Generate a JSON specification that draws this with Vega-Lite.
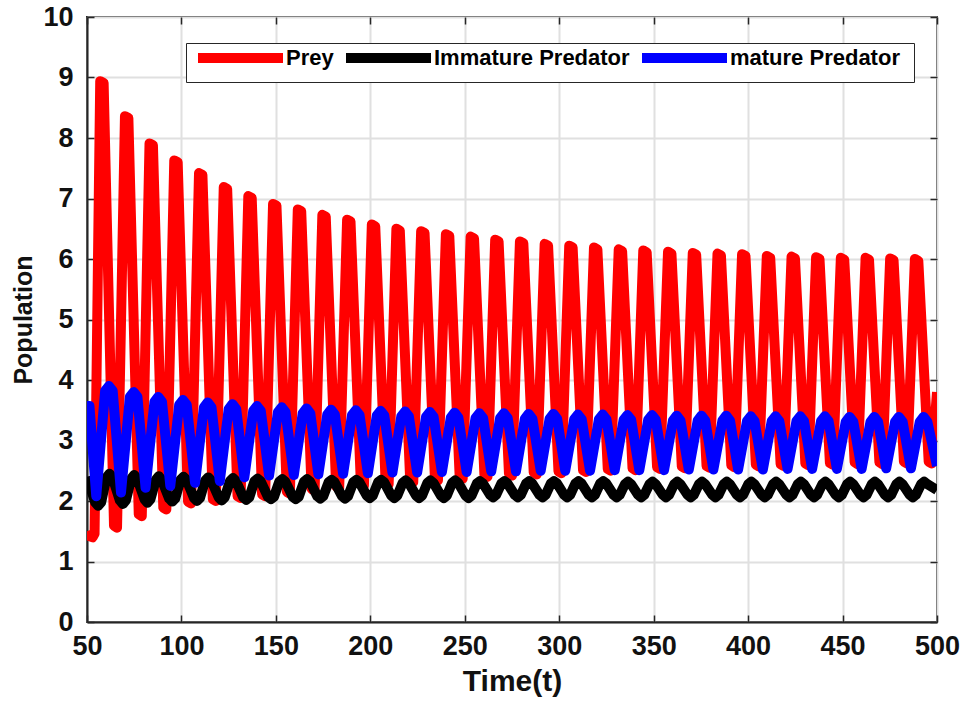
{
"$schema": "https://vega.github.io/schema/vega-lite/v6.json",
"width": 850, "height": 605,
"autosize": {"type": "none"},
"padding": {"left": 87, "top": 17, "right": 23, "bottom": 80},
"background": "white",
"config": {
  "view": {"stroke": "#262626", "strokeWidth": 2},
  "axis": {"labelFont": "Liberation Sans", "labelFontWeight": "bold", "labelFontSize": 27, "labelColor": "#111111", "labelFlush": false,
           "titleFont": "Liberation Sans", "titleFontWeight": "bold", "titleFontSize": 25, "titleColor": "#111111",
           "tickSize": -7, "tickColor": "#262626", "tickWidth": 1.5, "domainColor": "#262626", "domainWidth": 2,
           "gridColor": "#e0e0e0", "gridWidth": 2}
},
"datasets": {
"prey": [
{"t":50,"y":1.50},{"t":51.2,"y":1.42},{"t":53.0,"y":1.40},{"t":54.0,"y":1.46},
{"t":57.0,"y":8.94},{"t":58.8,"y":8.91},{"t":64.3,"y":1.59},{"t":65.9,"y":1.56},
{"t":70.1,"y":8.36},{"t":71.9,"y":8.33},{"t":77.4,"y":1.78},{"t":79.0,"y":1.75},
{"t":83.1,"y":7.91},{"t":84.9,"y":7.88},{"t":90.4,"y":1.89},{"t":92.0,"y":1.86},
{"t":96.2,"y":7.63},{"t":98.0,"y":7.60},{"t":103.5,"y":1.99},{"t":105.1,"y":1.96},
{"t":109.3,"y":7.42},{"t":111.1,"y":7.39},{"t":116.6,"y":2.03},{"t":118.2,"y":2.00},
{"t":122.4,"y":7.19},{"t":124.2,"y":7.16},{"t":129.7,"y":2.08},{"t":131.3,"y":2.05},
{"t":135.4,"y":7.04},{"t":137.2,"y":7.01},{"t":142.7,"y":2.11},{"t":144.3,"y":2.08},
{"t":148.5,"y":6.91},{"t":150.3,"y":6.88},{"t":155.8,"y":2.15},{"t":157.4,"y":2.12},
{"t":161.6,"y":6.82},{"t":163.4,"y":6.79},{"t":168.9,"y":2.20},{"t":170.5,"y":2.17},
{"t":174.6,"y":6.73},{"t":176.4,"y":6.70},{"t":181.9,"y":2.24},{"t":183.5,"y":2.21},
{"t":187.7,"y":6.65},{"t":189.5,"y":6.62},{"t":195.0,"y":2.28},{"t":196.6,"y":2.25},
{"t":200.8,"y":6.57},{"t":202.6,"y":6.54},{"t":208.1,"y":2.31},{"t":209.7,"y":2.28},
{"t":213.8,"y":6.50},{"t":215.6,"y":6.47},{"t":221.1,"y":2.34},{"t":222.7,"y":2.31},
{"t":226.9,"y":6.46},{"t":228.7,"y":6.43},{"t":234.2,"y":2.37},{"t":235.8,"y":2.34},
{"t":240.0,"y":6.41},{"t":241.8,"y":6.38},{"t":247.3,"y":2.40},{"t":248.9,"y":2.37},
{"t":253.1,"y":6.37},{"t":254.9,"y":6.34},{"t":260.4,"y":2.43},{"t":262.0,"y":2.40},
{"t":266.1,"y":6.32},{"t":267.9,"y":6.29},{"t":273.4,"y":2.45},{"t":275.0,"y":2.42},
{"t":279.2,"y":6.29},{"t":281.0,"y":6.26},{"t":286.5,"y":2.47},{"t":288.1,"y":2.44},
{"t":292.3,"y":6.25},{"t":294.1,"y":6.22},{"t":299.6,"y":2.49},{"t":301.2,"y":2.46},
{"t":305.3,"y":6.22},{"t":307.1,"y":6.19},{"t":312.6,"y":2.51},{"t":314.2,"y":2.48},
{"t":318.4,"y":6.19},{"t":320.2,"y":6.16},{"t":325.7,"y":2.53},{"t":327.3,"y":2.50},
{"t":331.5,"y":6.16},{"t":333.3,"y":6.13},{"t":338.8,"y":2.54},{"t":340.4,"y":2.51},
{"t":344.5,"y":6.14},{"t":346.3,"y":6.11},{"t":351.8,"y":2.56},{"t":353.4,"y":2.53},
{"t":357.6,"y":6.12},{"t":359.4,"y":6.09},{"t":364.9,"y":2.57},{"t":366.5,"y":2.54},
{"t":370.7,"y":6.10},{"t":372.5,"y":6.07},{"t":378.0,"y":2.58},{"t":379.6,"y":2.55},
{"t":383.8,"y":6.09},{"t":385.6,"y":6.06},{"t":391.1,"y":2.59},{"t":392.7,"y":2.56},
{"t":396.8,"y":6.08},{"t":398.6,"y":6.05},{"t":404.1,"y":2.60},{"t":405.7,"y":2.57},
{"t":409.9,"y":6.05},{"t":411.7,"y":6.02},{"t":417.2,"y":2.61},{"t":418.8,"y":2.58},
{"t":423.0,"y":6.04},{"t":424.8,"y":6.01},{"t":430.3,"y":2.62},{"t":431.9,"y":2.59},
{"t":436.0,"y":6.03},{"t":437.8,"y":6.00},{"t":443.3,"y":2.63},{"t":444.9,"y":2.60},
{"t":449.1,"y":6.02},{"t":450.9,"y":5.99},{"t":456.4,"y":2.64},{"t":458.0,"y":2.61},
{"t":462.2,"y":6.02},{"t":464.0,"y":5.99},{"t":469.5,"y":2.64},{"t":471.1,"y":2.61},
{"t":475.2,"y":6.01},{"t":477.0,"y":5.98},{"t":482.5,"y":2.65},{"t":484.1,"y":2.62},
{"t":488.3,"y":6.00},{"t":490.1,"y":5.97},{"t":495.6,"y":2.65},{"t":497.2,"y":2.62},
{"t":500,"y":3.8}
],
"imm": [
{"t":50,"y":2.40},
{"t":54.3,"y":1.98},{"t":55.9,"y":1.92},{"t":57.5,"y":1.98},{"t":60.3,"y":2.39},{"t":61.9,"y":2.45},{"t":63.5,"y":2.39},
{"t":67.4,"y":2.01},{"t":69.0,"y":1.95},{"t":70.6,"y":2.01},{"t":73.4,"y":2.37},{"t":75.0,"y":2.43},{"t":76.6,"y":2.37},
{"t":80.4,"y":2.03},{"t":82.0,"y":1.97},{"t":83.6,"y":2.03},{"t":86.4,"y":2.35},{"t":88.0,"y":2.41},{"t":89.6,"y":2.35},
{"t":93.5,"y":2.04},{"t":95.1,"y":1.99},{"t":96.7,"y":2.04},{"t":99.5,"y":2.35},{"t":101.1,"y":2.40},{"t":102.7,"y":2.35},
{"t":106.6,"y":2.05},{"t":108.2,"y":2.00},{"t":109.8,"y":2.05},{"t":112.6,"y":2.34},{"t":114.2,"y":2.39},{"t":115.8,"y":2.34},
{"t":119.7,"y":2.06},{"t":121.3,"y":2.01},{"t":122.9,"y":2.06},{"t":125.7,"y":2.33},{"t":127.3,"y":2.38},{"t":128.9,"y":2.33},
{"t":132.7,"y":2.06},{"t":134.3,"y":2.02},{"t":135.9,"y":2.06},{"t":138.7,"y":2.33},{"t":140.3,"y":2.37},{"t":141.9,"y":2.33},
{"t":145.8,"y":2.07},{"t":147.4,"y":2.03},{"t":149.0,"y":2.07},{"t":151.8,"y":2.32},{"t":153.4,"y":2.36},{"t":155.0,"y":2.32},
{"t":158.9,"y":2.07},{"t":160.5,"y":2.03},{"t":162.1,"y":2.07},{"t":164.9,"y":2.32},{"t":166.5,"y":2.36},{"t":168.1,"y":2.32},
{"t":171.9,"y":2.08},{"t":173.5,"y":2.04},{"t":175.1,"y":2.08},{"t":177.9,"y":2.31},{"t":179.5,"y":2.35},{"t":181.1,"y":2.31},
{"t":185.0,"y":2.08},{"t":186.6,"y":2.04},{"t":188.2,"y":2.08},{"t":191.0,"y":2.31},{"t":192.6,"y":2.35},{"t":194.2,"y":2.31},
{"t":198.1,"y":2.09},{"t":199.7,"y":2.05},{"t":201.3,"y":2.09},{"t":204.1,"y":2.31},{"t":205.7,"y":2.35},{"t":207.3,"y":2.31},
{"t":211.1,"y":2.09},{"t":212.7,"y":2.05},{"t":214.3,"y":2.09},{"t":217.1,"y":2.30},{"t":218.7,"y":2.34},{"t":220.3,"y":2.30},
{"t":224.2,"y":2.09},{"t":225.8,"y":2.05},{"t":227.4,"y":2.09},{"t":230.2,"y":2.30},{"t":231.8,"y":2.34},{"t":233.4,"y":2.30},
{"t":237.3,"y":2.09},{"t":238.9,"y":2.05},{"t":240.5,"y":2.09},{"t":243.3,"y":2.30},{"t":244.9,"y":2.34},{"t":246.5,"y":2.30},
{"t":250.4,"y":2.09},{"t":252.0,"y":2.05},{"t":253.6,"y":2.09},{"t":256.4,"y":2.29},{"t":258.0,"y":2.33},{"t":259.6,"y":2.29},
{"t":263.4,"y":2.10},{"t":265.0,"y":2.06},{"t":266.6,"y":2.10},{"t":269.4,"y":2.29},{"t":271.0,"y":2.33},{"t":272.6,"y":2.29},
{"t":276.5,"y":2.10},{"t":278.1,"y":2.06},{"t":279.7,"y":2.10},{"t":282.5,"y":2.29},{"t":284.1,"y":2.33},{"t":285.7,"y":2.29},
{"t":289.6,"y":2.10},{"t":291.2,"y":2.06},{"t":292.8,"y":2.10},{"t":295.6,"y":2.29},{"t":297.2,"y":2.33},{"t":298.8,"y":2.29},
{"t":302.6,"y":2.10},{"t":304.2,"y":2.06},{"t":305.8,"y":2.10},{"t":308.6,"y":2.29},{"t":310.2,"y":2.33},{"t":311.8,"y":2.29},
{"t":315.7,"y":2.10},{"t":317.3,"y":2.06},{"t":318.9,"y":2.10},{"t":321.7,"y":2.29},{"t":323.3,"y":2.33},{"t":324.9,"y":2.29},
{"t":328.8,"y":2.10},{"t":330.4,"y":2.06},{"t":332.0,"y":2.10},{"t":334.8,"y":2.28},{"t":336.4,"y":2.32},{"t":338.0,"y":2.28},
{"t":341.8,"y":2.10},{"t":343.4,"y":2.06},{"t":345.0,"y":2.10},{"t":347.8,"y":2.28},{"t":349.4,"y":2.32},{"t":351.0,"y":2.28},
{"t":354.9,"y":2.10},{"t":356.5,"y":2.06},{"t":358.1,"y":2.10},{"t":360.9,"y":2.28},{"t":362.5,"y":2.32},{"t":364.1,"y":2.28},
{"t":368.0,"y":2.10},{"t":369.6,"y":2.06},{"t":371.2,"y":2.10},{"t":374.0,"y":2.28},{"t":375.6,"y":2.32},{"t":377.2,"y":2.28},
{"t":381.1,"y":2.10},{"t":382.7,"y":2.06},{"t":384.3,"y":2.10},{"t":387.1,"y":2.28},{"t":388.7,"y":2.32},{"t":390.3,"y":2.28},
{"t":394.1,"y":2.10},{"t":395.7,"y":2.06},{"t":397.3,"y":2.10},{"t":400.1,"y":2.28},{"t":401.7,"y":2.32},{"t":403.3,"y":2.28},
{"t":407.2,"y":2.10},{"t":408.8,"y":2.06},{"t":410.4,"y":2.10},{"t":413.2,"y":2.28},{"t":414.8,"y":2.32},{"t":416.4,"y":2.28},
{"t":420.3,"y":2.10},{"t":421.9,"y":2.06},{"t":423.5,"y":2.10},{"t":426.3,"y":2.28},{"t":427.9,"y":2.32},{"t":429.5,"y":2.28},
{"t":433.3,"y":2.10},{"t":434.9,"y":2.06},{"t":436.5,"y":2.10},{"t":439.3,"y":2.28},{"t":440.9,"y":2.32},{"t":442.5,"y":2.28},
{"t":446.4,"y":2.10},{"t":448.0,"y":2.06},{"t":449.6,"y":2.10},{"t":452.4,"y":2.28},{"t":454.0,"y":2.32},{"t":455.6,"y":2.28},
{"t":459.5,"y":2.10},{"t":461.1,"y":2.06},{"t":462.7,"y":2.10},{"t":465.5,"y":2.28},{"t":467.1,"y":2.32},{"t":468.7,"y":2.28},
{"t":472.5,"y":2.10},{"t":474.1,"y":2.06},{"t":475.7,"y":2.10},{"t":478.5,"y":2.28},{"t":480.1,"y":2.32},{"t":481.7,"y":2.28},
{"t":485.6,"y":2.10},{"t":487.2,"y":2.06},{"t":488.8,"y":2.10},{"t":491.6,"y":2.28},{"t":493.2,"y":2.32},{"t":494.8,"y":2.28},
{"t":500,"y":2.18}
],
"mat": [
{"t":50,"y":3.57},{"t":51.3,"y":3.57},{"t":54.9,"y":2.08},
{"t":59.6,"y":3.82},{"t":61.6,"y":3.90},{"t":63.6,"y":3.82},{"t":68.0,"y":2.14},
{"t":72.7,"y":3.72},{"t":74.7,"y":3.80},{"t":76.7,"y":3.72},{"t":81.0,"y":2.22},
{"t":85.7,"y":3.64},{"t":87.7,"y":3.72},{"t":89.7,"y":3.64},{"t":94.1,"y":2.25},
{"t":98.8,"y":3.59},{"t":100.8,"y":3.67},{"t":102.8,"y":3.59},{"t":107.2,"y":2.30},
{"t":111.9,"y":3.55},{"t":113.9,"y":3.63},{"t":115.9,"y":3.55},{"t":120.3,"y":2.33},
{"t":125.0,"y":3.52},{"t":127.0,"y":3.60},{"t":129.0,"y":3.52},{"t":133.3,"y":2.39},
{"t":138.0,"y":3.49},{"t":140.0,"y":3.57},{"t":142.0,"y":3.49},{"t":146.4,"y":2.42},
{"t":151.1,"y":3.47},{"t":153.1,"y":3.55},{"t":155.1,"y":3.47},{"t":159.5,"y":2.43},
{"t":164.2,"y":3.45},{"t":166.2,"y":3.53},{"t":168.2,"y":3.45},{"t":172.5,"y":2.44},
{"t":177.2,"y":3.43},{"t":179.2,"y":3.51},{"t":181.2,"y":3.43},{"t":185.6,"y":2.45},
{"t":190.3,"y":3.42},{"t":192.3,"y":3.50},{"t":194.3,"y":3.42},{"t":198.7,"y":2.46},
{"t":203.4,"y":3.41},{"t":205.4,"y":3.49},{"t":207.4,"y":3.41},{"t":211.7,"y":2.47},
{"t":216.4,"y":3.40},{"t":218.4,"y":3.48},{"t":220.4,"y":3.40},{"t":224.8,"y":2.47},
{"t":229.5,"y":3.39},{"t":231.5,"y":3.47},{"t":233.5,"y":3.39},{"t":237.9,"y":2.48},
{"t":242.6,"y":3.38},{"t":244.6,"y":3.46},{"t":246.6,"y":3.38},{"t":251.0,"y":2.48},
{"t":255.7,"y":3.37},{"t":257.7,"y":3.45},{"t":259.7,"y":3.37},{"t":264.0,"y":2.49},
{"t":268.7,"y":3.37},{"t":270.7,"y":3.45},{"t":272.7,"y":3.37},{"t":277.1,"y":2.49},
{"t":281.8,"y":3.36},{"t":283.8,"y":3.44},{"t":285.8,"y":3.36},{"t":290.2,"y":2.50},
{"t":294.9,"y":3.36},{"t":296.9,"y":3.44},{"t":298.9,"y":3.36},{"t":303.2,"y":2.50},
{"t":307.9,"y":3.35},{"t":309.9,"y":3.43},{"t":311.9,"y":3.35},{"t":316.3,"y":2.50},
{"t":321.0,"y":3.35},{"t":323.0,"y":3.43},{"t":325.0,"y":3.35},{"t":329.4,"y":2.51},
{"t":334.1,"y":3.34},{"t":336.1,"y":3.42},{"t":338.1,"y":3.34},{"t":342.4,"y":2.51},
{"t":347.1,"y":3.34},{"t":349.1,"y":3.42},{"t":351.1,"y":3.34},{"t":355.5,"y":2.51},
{"t":360.2,"y":3.33},{"t":362.2,"y":3.41},{"t":364.2,"y":3.33},{"t":368.6,"y":2.52},
{"t":373.3,"y":3.33},{"t":375.3,"y":3.41},{"t":377.3,"y":3.33},{"t":381.6,"y":2.52},
{"t":386.4,"y":3.33},{"t":388.4,"y":3.41},{"t":390.4,"y":3.33},{"t":394.7,"y":2.52},
{"t":399.4,"y":3.32},{"t":401.4,"y":3.40},{"t":403.4,"y":3.32},{"t":407.8,"y":2.52},
{"t":412.5,"y":3.32},{"t":414.5,"y":3.40},{"t":416.5,"y":3.32},{"t":420.9,"y":2.53},
{"t":425.6,"y":3.32},{"t":427.6,"y":3.40},{"t":429.6,"y":3.32},{"t":433.9,"y":2.53},
{"t":438.6,"y":3.32},{"t":440.6,"y":3.40},{"t":442.6,"y":3.32},{"t":447.0,"y":2.53},
{"t":451.7,"y":3.31},{"t":453.7,"y":3.39},{"t":455.7,"y":3.31},{"t":460.1,"y":2.53},
{"t":464.8,"y":3.31},{"t":466.8,"y":3.39},{"t":468.8,"y":3.31},{"t":473.1,"y":2.54},
{"t":477.8,"y":3.31},{"t":479.8,"y":3.39},{"t":481.8,"y":3.31},{"t":486.2,"y":2.54},
{"t":490.9,"y":3.31},{"t":492.9,"y":3.39},{"t":494.9,"y":3.31},{"t":500,"y":2.58}
]
},
"layer": [
  {
    "encoding": {
      "x": {"field": "t", "type": "quantitative", "scale": {"domain": [50, 500], "nice": false, "zero": false},
            "axis": {"values": [50,100,150,200,250,300,350,400,450,500], "title": "Time(t)", "titleFontSize": 30, "labelPadding": 18, "titlePadding": 7, "grid": true}},
      "y": {"field": "y", "type": "quantitative", "scale": {"domain": [0, 10], "nice": false},
            "axis": {"values": [0,1,2,3,4,5,6,7,8,9,10], "title": "Population", "labelPadding": 21, "titlePadding": 6, "grid": true}}
    },
    "layer": [
      {"data": {"name": "prey"}, "mark": {"type": "line", "strokeWidth": 10, "clip": true, "strokeJoin": "round"},
       "encoding": {"color": {"datum": "Prey", "type": "nominal",
          "scale": {"domain": ["Prey", "Immature Predator", "mature Predator"], "range": ["#ff0000", "#000000", "#0000ff"]},
          "legend": {"orient": "none", "legendX": 99, "legendY": 26, "direction": "horizontal", "columns": 3,
                     "title": " ", "titleOrient": "right", "titlePadding": 10, "titleFontSize": 10,
                     "symbolType": "M-16,0H1", "symbolSize": 100, "symbolStrokeWidth": 10, "symbolOffset": 77,
                     "labelFont": "Liberation Sans", "labelFontWeight": "bold", "labelFontSize": 22, "labelColor": "#000000",
                     "labelOffset": -3, "labelLimit": 400,
                     "columnPadding": -8, "padding": 4, "strokeColor": "#262626", "fillColor": "#ffffff"}}}},
      {"data": {"name": "imm"}, "mark": {"type": "line", "strokeWidth": 10, "clip": true, "strokeJoin": "round"},
       "encoding": {"color": {"datum": "Immature Predator", "type": "nominal"}}},
      {"data": {"name": "mat"}, "mark": {"type": "line", "strokeWidth": 10, "clip": true, "strokeJoin": "round"},
       "encoding": {"color": {"datum": "mature Predator", "type": "nominal"}}}
    ]
  },
  {
    "data": {"name": "mat"},
    "mark": {"type": "point", "opacity": 0},
    "encoding": {
      "x": {"field": "t", "type": "quantitative", "scale": {"domain": [50, 500], "nice": false, "zero": false},
            "axis": {"orient": "top", "values": [50,100,150,200,250,300,350,400,450,500], "labels": false, "title": null, "grid": false, "domain": false}},
      "y": {"field": "y", "type": "quantitative", "scale": {"domain": [0, 10], "nice": false},
            "axis": {"orient": "right", "values": [0,1,2,3,4,5,6,7,8,9,10], "labels": false, "title": null, "grid": false, "domain": false}}
    }
  }
],
"resolve": {"axis": {"x": "independent", "y": "independent"}}
}
